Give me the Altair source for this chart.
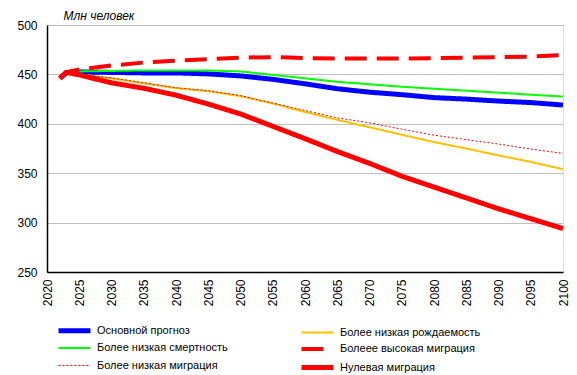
import altair as alt
import pandas as pd

years = [2022, 2023, 2025, 2030, 2035, 2040, 2045, 2050, 2055, 2060,
         2065, 2070, 2075, 2080, 2085, 2090, 2095, 2100]

s_names = ["Основной прогноз", "Более низкая рождаемость",
           "Более низкая смертность", "Болеее высокая миграция",
           "Более низкая миграция", "Нулевая миграция"]

base = [446, 452, 452.5, 452, 451.5, 451.5, 450.5, 448.5, 445, 440.5,
        435.5, 432, 429.5, 426.5, 425, 423, 421.5, 419]
low_fert = [446, 452, 450, 446, 441, 436, 433, 428, 420.5, 412,
            404, 396.5, 389, 381.5, 375, 368, 361.5, 354]
low_mort = [446, 452, 453, 453.5, 454, 454, 454, 453, 449.5, 446,
            442.5, 440, 437.5, 435.5, 433.5, 431.5, 429.5, 427.5]
high_mig = [446, 452, 455, 459, 462, 464, 465.5, 467, 467.5, 466.5,
            466, 466, 466, 466.5, 467, 467.5, 468, 469.5]
low_mig = [446, 452, 450, 446.5, 441.5, 436.5, 433.5, 428.5, 421, 413.5,
           406, 401, 394.5, 388.5, 384, 379.5, 374.5, 370]
zero_mig = [446, 452, 449.5, 441.5, 436, 429, 420, 410, 397.5, 385,
            372, 360, 347, 336, 325, 314, 304, 294]

colors = ["#0000FF", "#FFC000", "#00FF00", "#FF0000", "#FF0000", "#FF0000"]
widths = [5, 2, 2, 4, 1, 5]
dashes = [[1, 0], [1, 0], [1, 0], [22, 10], [2, 2], [1, 0]]

rows = []
for name, vals in zip(s_names, [base, low_fert, low_mort, high_mig, low_mig, zero_mig]):
    for y, v in zip(years, vals):
        rows.append({"year": y, "value": v, "series": name})
df = pd.DataFrame(rows)

font = "Liberation Sans"

chart = alt.Chart(df).mark_line(strokeCap="butt").encode(
    x=alt.X("year:Q",
            scale=alt.Scale(domain=[2020, 2100], nice=False),
            axis=alt.Axis(values=list(range(2020, 2101, 5)), format="d",
                          labelAngle=270, labelFontSize=12, labelFont=font,
                          labelColor="#000000", labelPadding=7,
                          ticks=False, grid=False, domainColor="#000000",
                          domainWidth=1.5, title=None, labelOverlap=False)),
    y=alt.Y("value:Q",
            scale=alt.Scale(domain=[250, 500], nice=False, zero=False),
            axis=alt.Axis(values=[250, 300, 350, 400, 450, 500],
                          labelFontSize=12, labelFont=font, labelColor="#000000",
                          labelPadding=10, ticks=False, grid=True,
                          gridColor="#C0C0C0", gridWidth=1,
                          domainColor="#000000", domainWidth=1.5,
                          title="Млн человек", titleAngle=0, titleX=16,
                          titleY=-10, titleAlign="left", titleBaseline="middle",
                          titleFont=font,
                          titleFontSize=12, titleFontStyle="italic",
                          titleFontWeight="normal", titleColor="#000000")),
    color=alt.Color("series:N",
                    scale=alt.Scale(domain=s_names, range=colors),
                    sort=s_names,
                    legend=alt.Legend(title=None, orient="none",
                                      direction="horizontal",
                                      legendX=9, legendY=298,
                                      columns=2, columnPadding=63,
                                      rowPadding=0, symbolType="M-1,0H5.4",
                                      symbolSize=100, labelFont=font,
                                      labelFontSize=11, labelColor="#000000",
                                      labelOffset=26, labelLimit=300)),
    strokeWidth=alt.StrokeWidth("series:N",
                                scale=alt.Scale(type="ordinal", domain=s_names, range=widths),
                                sort=s_names, legend=None),
    strokeDash=alt.StrokeDash("series:N",
                              scale=alt.Scale(domain=s_names, range=dashes),
                              sort=s_names, legend=None),
    order=alt.Order("year:Q"),
).properties(
    width=516, height=247,
    autosize=alt.AutoSizeParams(type="none"),
    padding={"left": 47, "top": 25, "right": 14, "bottom": 103},
).configure_view(
    stroke="#808080", strokeWidth=1
).configure(background="#FFFFFF")

chart.save("out.html", embed_options={"renderer": "svg", "actions": False})
